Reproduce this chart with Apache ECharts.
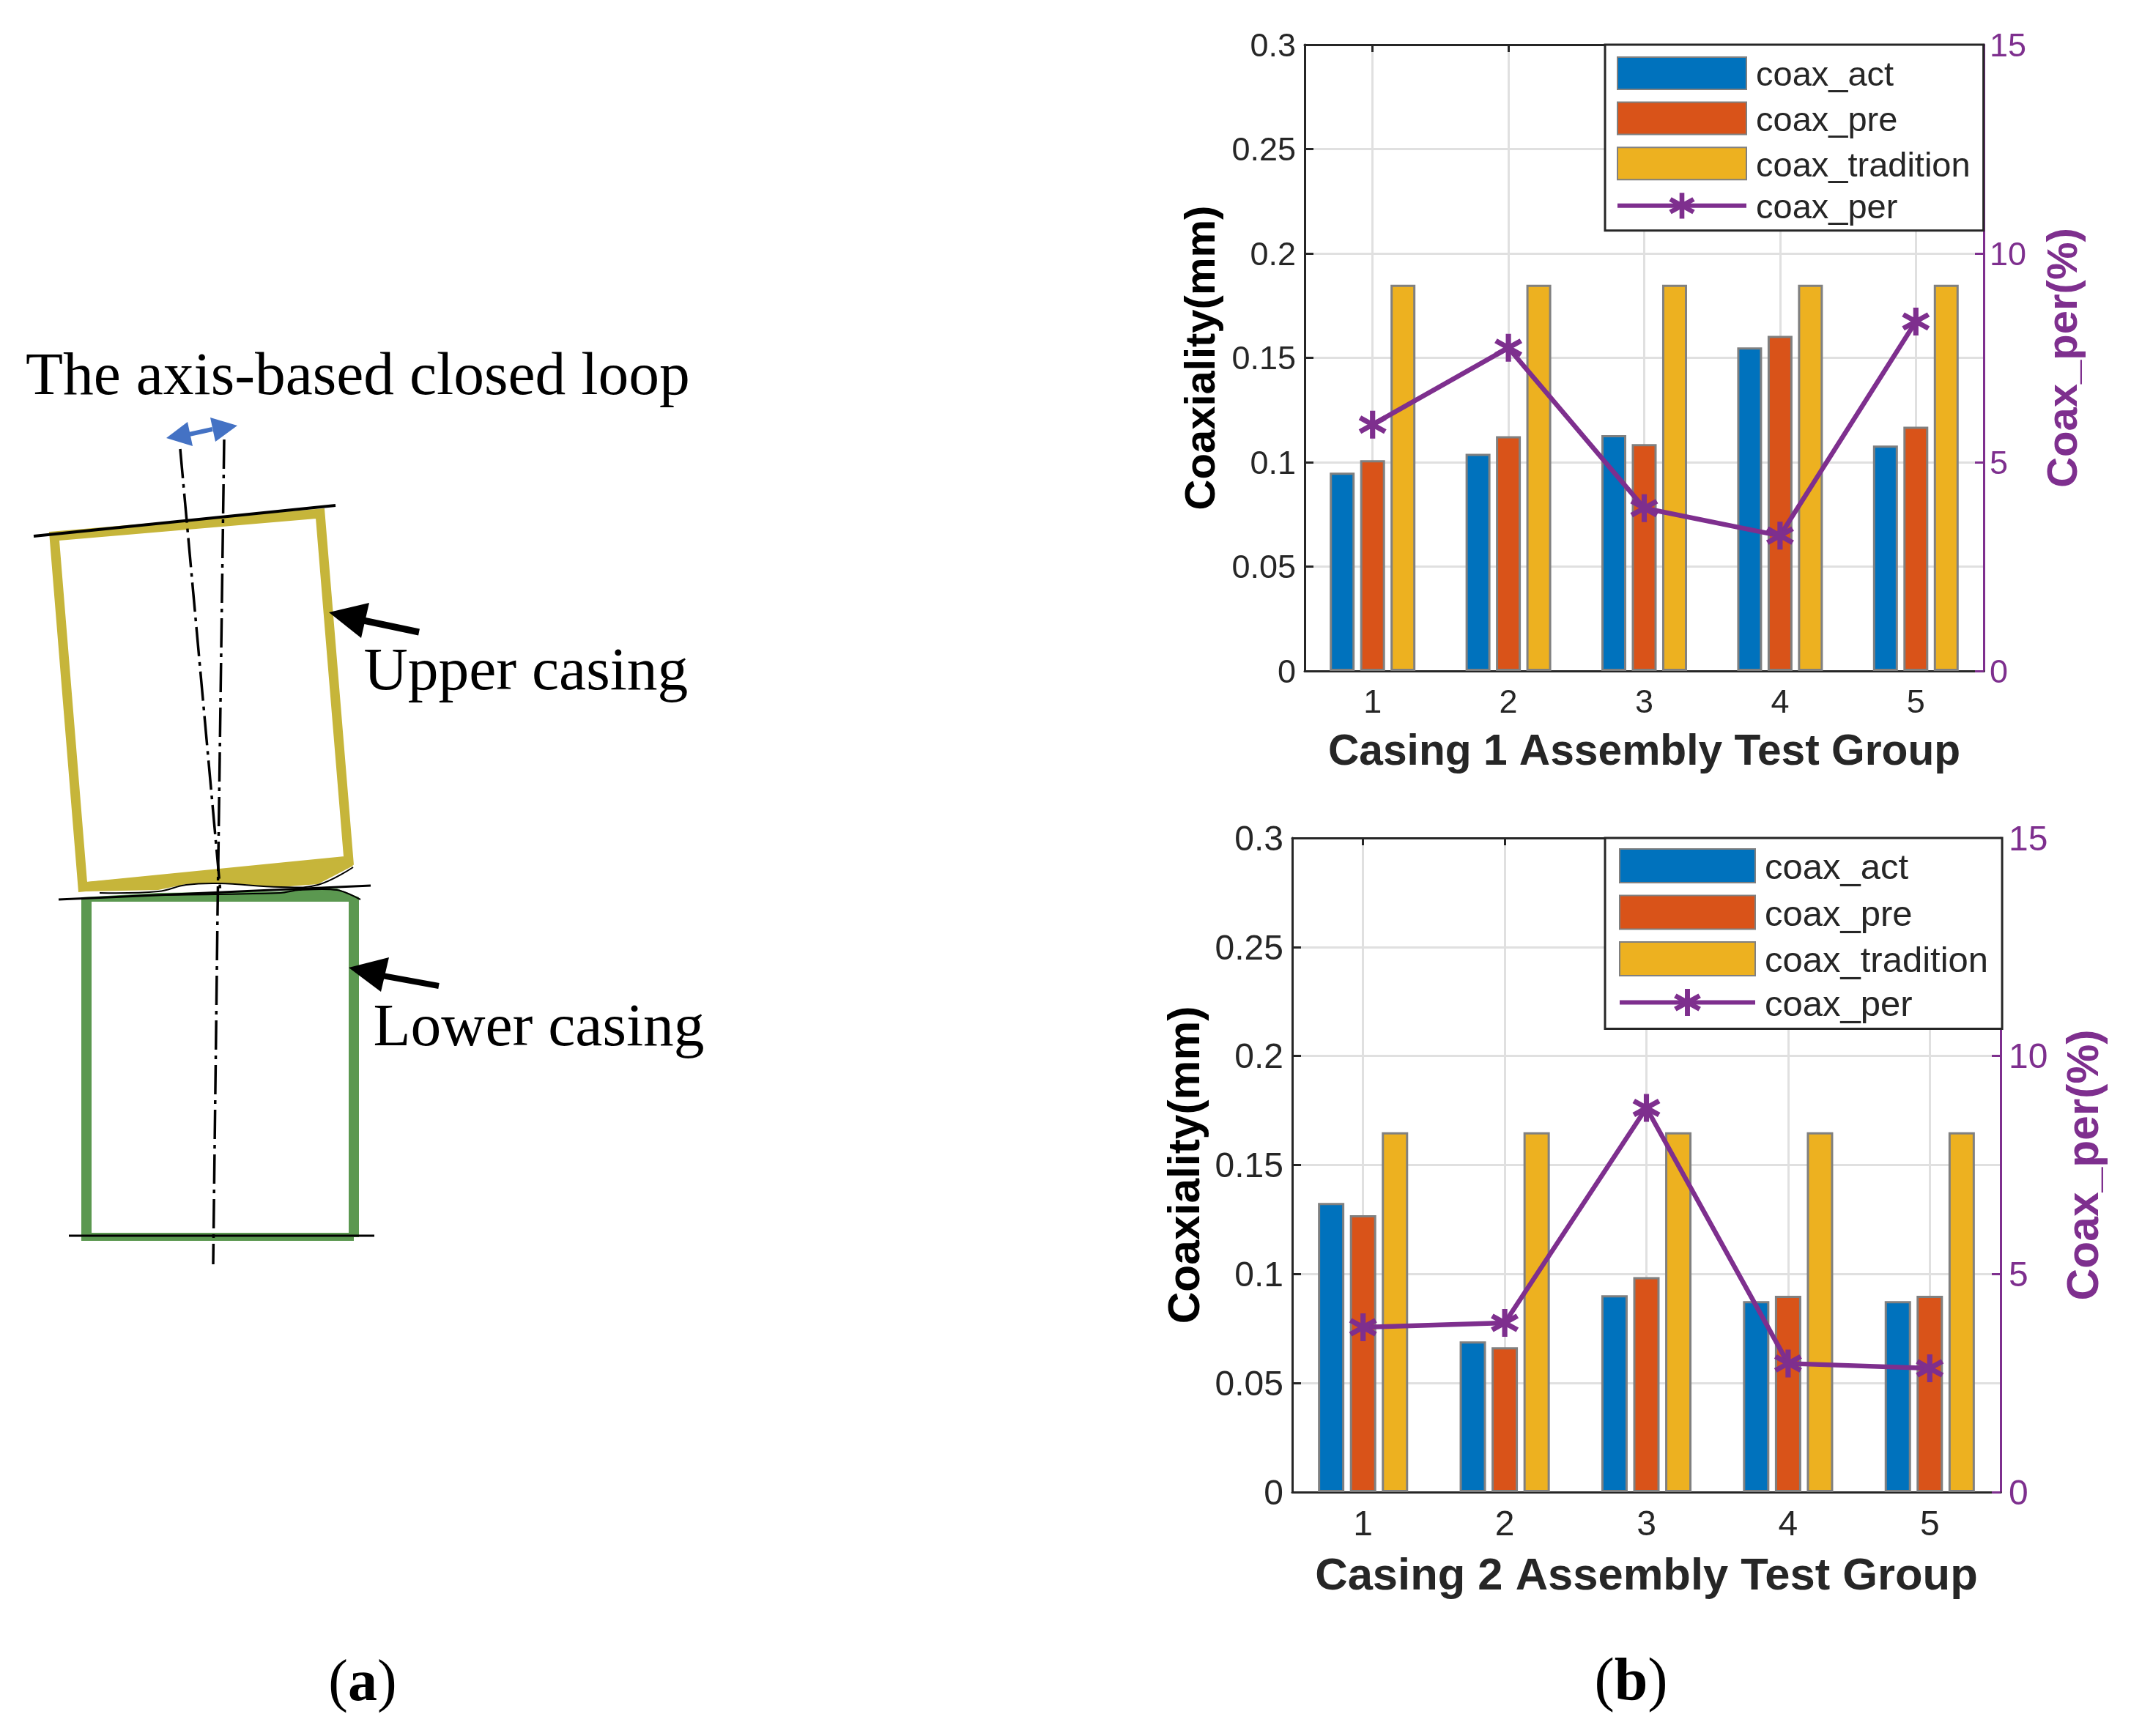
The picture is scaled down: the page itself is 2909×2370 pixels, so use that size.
<!DOCTYPE html>
<html><head><meta charset="utf-8">
<style>html,body{margin:0;padding:0;background:#fff}#c{width:2909px;height:2370px}</style>
<script src="https://cdn.jsdelivr.net/npm/echarts@6/dist/echarts.min.js"></script>
</head><body><div id="c"></div>
<script>
const groups = ['1','2','3','4','5'];
const act1 = [0.095,0.104,0.113,0.155,0.108];
const pre1 = [0.101,0.1125,0.1087,0.1605,0.117];
const trad1 = [0.185,0.185,0.185,0.185,0.185];
const per1 = [5.9,7.74,3.9,3.24,8.37];
const act2 = [0.1326,0.0691,0.0903,0.0876,0.0876];
const pre2 = [0.127,0.0664,0.0986,0.09,0.09];
const trad2 = [0.165,0.165,0.165,0.165,0.165];
const per2 = [3.78,3.88,8.81,2.95,2.84];
const names = ['coax_act','coax_pre','coax_tradition','coax_per'];
const xTitles = ['Casing 1 Assembly Test Group','Casing 2 Assembly Test Group'];

const BLUE='#0072BD',ORANGE='#D95319',GOLD='#EDB120',PURPLE='#7E2F8E',INK='#262626',GRIDC='#e0e0e0',EDGE='#808080';
const SANS='"Liberation Sans",Arial,sans-serif', SERIF='"Liberation Serif","Times New Roman",serif';
const STAR='path://M41 0L59 0L59 100L41 100ZM11.2 82.8L2.2 67.2L88.8 17.2L97.8 32.8ZM11.2 17.2L97.8 67.2L88.8 82.8L2.2 32.8Z';

const layouts=[
 {left:1781,right:2909-2708,top:61,h:855,fs:45,nameFs:58,xFs:58.7,xGap:82,lGap:110,rGap:82,lm:12,rm:8,bw:34,gap:'22%',
  leg:{left:2191,top:61,padding:[16,18,6,14],itemWidth:176,itemHeight:44,itemGap:10.6,fs:47,tp:8}},
 {left:1764,right:2909-2731,top:1144,h:893,fs:48,nameFs:60.5,xFs:61.5,xGap:85,lGap:113,rGap:86,lm:12,rm:11,bw:36,gap:'21%',
  leg:{left:2191,top:1144,padding:[14,19,7,17],itemWidth:185,itemHeight:46,itemGap:10.5,fs:49,tp:8}}
];
const grids=[],xAxes=[],yAxes=[],series=[],legends=[];
const yLabel=(L,color,margin)=>({margin,formatter:'{v|{value}}',
  rich:{v:{fontFamily:SANS,fontSize:L.fs,color,padding:[7,0,0,0]}}});
[[act1,pre1,trad1,per1],[act2,pre2,trad2,per2]].forEach((vals,i)=>{
 const L=layouts[i];
 grids.push({left:L.left,right:L.right,top:L.top,height:L.h,containLabel:false});
 xAxes.push({type:'category',gridIndex:i,data:groups,position:'bottom',name:xTitles[i],nameLocation:'middle',nameGap:L.xGap,
  nameTextStyle:{fontFamily:SANS,fontWeight:'bold',fontSize:L.xFs,color:INK},
  axisLine:{onZero:false,lineStyle:{color:INK,width:3}},
  axisTick:{show:true,inside:true,length:10,alignWithLabel:true,lineStyle:{color:INK,width:3}},
  axisLabel:{fontFamily:SANS,fontSize:L.fs,color:INK,margin:22},
  splitLine:{show:true,alignWithLabel:true,lineStyle:{color:GRIDC,width:3}}});
 xAxes.push({type:'category',gridIndex:i,data:groups,position:'top',
  axisLine:{onZero:false,lineStyle:{color:INK,width:3}},
  axisTick:{show:true,inside:true,length:10,alignWithLabel:true,lineStyle:{color:INK,width:3}},
  axisLabel:{show:false},splitLine:{show:false}});
 yAxes.push({type:'value',gridIndex:i,position:'left',min:0,max:0.3,interval:0.05,name:'Coaxiality(mm)',nameLocation:'middle',nameGap:L.lGap,
  nameTextStyle:{fontFamily:SANS,fontWeight:'bold',fontSize:L.nameFs,color:'#000'},
  axisLine:{show:true,onZero:false,lineStyle:{color:INK,width:3}},
  axisTick:{show:true,inside:true,length:12,lineStyle:{color:INK,width:3}},
  axisLabel:yLabel(L,INK,L.lm),
  splitLine:{show:true,lineStyle:{color:GRIDC,width:3}}});
 yAxes.push({type:'value',gridIndex:i,position:'right',min:0,max:15,interval:5,name:'Coax_per(%)',nameLocation:'middle',nameGap:L.rGap,nameRotate:90,
  nameTextStyle:{fontFamily:SANS,fontWeight:'bold',fontSize:L.nameFs,color:PURPLE},
  axisLine:{show:true,onZero:false,lineStyle:{color:PURPLE,width:3}},
  axisTick:{show:true,inside:true,length:12,lineStyle:{color:PURPLE,width:3}},
  axisLabel:yLabel(L,PURPLE,L.rm),
  splitLine:{show:false}});
 [BLUE,ORANGE,GOLD].forEach((c,k)=>series.push({type:'bar',name:names[k],xAxisIndex:2*i,yAxisIndex:2*i,data:vals[k],
  barWidth:L.bw,barGap:L.gap,itemStyle:{color:c,borderColor:EDGE,borderWidth:3},silent:true}));
 series.push({type:'line',name:names[3],xAxisIndex:2*i,yAxisIndex:2*i+1,data:vals[3],z:5,
  symbol:STAR,symbolSize:38,showSymbol:true,lineStyle:{color:PURPLE,width:6.5},itemStyle:{color:PURPLE},silent:true});
 const G=L.leg;
 legends.push({show:true,orient:'vertical',left:G.left,top:G.top,padding:G.padding,itemWidth:G.itemWidth,itemHeight:G.itemHeight,itemGap:G.itemGap,
  backgroundColor:'#fff',borderColor:INK,borderWidth:3,z:6,selectedMode:false,
  lineStyle:{width:6},
  data:names.map((n,k)=>k<3?{name:n,icon:'rect'}:{name:n}),
  formatter:n=>'{t|'+n+'}',
  textStyle:{rich:{t:{fontFamily:SANS,fontSize:G.fs,color:INK,padding:[9,0,0,G.tp]}}}});
});

// Panel (a): schematic drawn by hand with graphic elements
const poly=(points,fill)=>({type:'polygon',shape:{points},style:{fill},silent:true});
const line=(points,w,stroke,dash,smooth)=>({type:'polyline',shape:{points,smooth:smooth||0},style:{stroke,lineWidth:w,fill:null,lineDash:dash||null},silent:true});
const txt=(text,x,base,size)=>({type:'text',x,y:base-size*0.3375+5.5,silent:true,style:{text,fill:'#000',font:size+'px '+SERIF,verticalAlign:'middle'}});
const label=(b,x,base,size)=>({type:'text',x,y:base-size*0.3375,silent:true,style:{text:'{n|(}{b|'+b+'}{n|)}',align:'center',verticalAlign:'middle',
  rich:{n:{font:size+'px '+SERIF,fill:'#000'},b:{font:'bold '+size+'px '+SERIF,fill:'#000'}}}});
const YEL='#C6B53A',GRN='#5B9850',ARW='#4472C4',DASH=[40,8,5,8];
const sketch={type:'group',x:-2,y:-3,silent:true,children:[
 {type:'polygon',shape:{points:[[76,735],[439,704],[478,1178],[115,1214]]},style:{fill:null,stroke:YEL,lineWidth:13,lineJoin:'miter'},silent:true},
 poly([[115,1220],[218,1218],[256,1210],[301,1208],[385,1214],[436,1210],[484,1185],[478,1176],[122,1207]],YEL),
 poly([[113,1228],[218,1222],[385,1220],[410,1216],[462,1216],[492,1228],[492,1234],[113,1234]],GRN),
 {type:'rect',shape:{x:113,y:1228,width:14,height:469},style:{fill:GRN},silent:true},
 {type:'rect',shape:{x:478,y:1228,width:14,height:464},style:{fill:GRN},silent:true},
 {type:'rect',shape:{x:113,y:1686,width:372,height:11},style:{fill:GRN},silent:true},
 line([[48,735],[460,693]],4,'#000'),
 line([[82,1231],[508,1212]],3,'#000'),
 line([[96,1690],[513,1690]],3,'#000'),
 line([[138,1222],[218,1220],[256,1211],[301,1209],[385,1214],[436,1211],[484,1187]],2,'#000',null,0.4),
 line([[218,1225],[385,1222],[410,1218],[462,1218],[494,1231]],2,'#000',null,0.3),
 line([[248,616],[303,1222]],3.5,'#000',DASH),
 line([[308,603],[299,1248],[293,1729]],3.5,'#000',DASH),
 poly([[229,601],[258,579],[265,612]],ARW),
 poly([[326,584],[289,573],[296,606]],ARW),
 line([[260,596],[292,589]],6,ARW),
 poly([[451,839],[506,826],[495,874]],'#000'),
 line([[498,850],[574,866]],9,'#000'),
 poly([[478,1324],[533,1310],[522,1357]],'#000'),
 line([[524,1335],[601,1349]],8,'#000')
]};
const elements=[sketch,
 txt('The axis-based closed loop',35,539,83.5),
 txt('Upper casing',496.5,942,83.5),
 txt('Lower casing',509.5,1428,83.5),
 label('a',495,2327,80),
 label('b',2226.5,2326,82)
];

const chart=echarts.init(document.getElementById('c'),null,{renderer:'canvas',width:2909,height:2370});
chart.setOption({animation:false,backgroundColor:'#fff',tooltip:{show:false},grid:grids,xAxis:xAxes,yAxis:yAxes,series,legend:legends,graphic:{elements}});
</script></body></html>
